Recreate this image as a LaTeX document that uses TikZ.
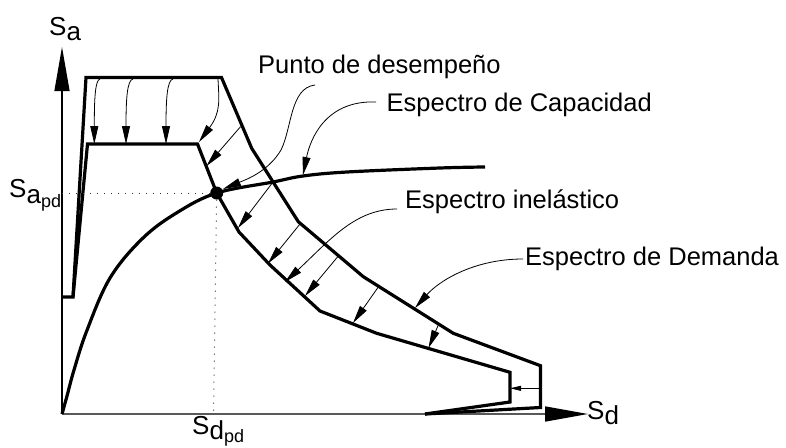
\documentclass[tikz,border=0pt]{standalone}
\usepackage{fontspec}
\setmainfont{Liberation Sans}
\usetikzlibrary{arrows.meta}
\begin{document}
\begin{tikzpicture}[x=1pt,y=-1pt,
  spec/.style={line width=3.2pt, line join=miter},
  lead/.style={line width=0.8pt, -{Triangle[length=18pt,width=8pt]}},
  smalllead/.style={line width=0.8pt, -{Triangle[length=11pt,width=5pt]}},
  lbl/.style={inner sep=0pt, anchor=base west, font=\fontsize{25.5}{30}\selectfont},
  axl/.style={inner sep=0pt, anchor=base west, font=\fontsize{26}{30}\selectfont},
  dots/.style={line width=1pt, dash pattern=on 1pt off 6pt, black!80}
]
\useasboundingbox (0,0) rectangle (786,447);

% axes
\coordinate (o) at (62,414);
\coordinate (ytip) at (62,47);
\coordinate (xtip) at (588,414);
\draw[line width=1.2pt, -{Triangle[length=44pt,width=15pt]}] (o) -- (ytip);
\draw[line width=1.6pt, gray!70!black, -{Triangle[length=43pt,width=15pt,black]}] (o) -- (xtip);

% outer (demand) spectrum
\coordinate (O1) at (62,297);
\coordinate (O2) at (73,297);
\coordinate (O3) at (86,77.5);
\coordinate (O4) at (221.5,77.5);
\coordinate (O5) at (251.7,148.3);
\coordinate (O6) at (298.3,221.7);
\coordinate (O7) at (363.3,276.7);
\coordinate (O8) at (453.3,333.3);
\coordinate (O9) at (540.5,365.7);
\coordinate (O10) at (540.5,407.5);
\coordinate (tip) at (425,414);
\draw[spec] (O1) -- (O2) -- (O3) -- (O4) -- (O5) -- (O6) -- (O7) -- (O8) -- (O9) -- (O10) -- (tip);

% inner (inelastic) spectrum
\coordinate (I2) at (87.5,144);
\coordinate (I3) at (197.5,144);
\coordinate (I4) at (216.7,193);
\coordinate (I5) at (239,232);
\coordinate (I6) at (270,265);
\coordinate (I7) at (320,311);
\coordinate (I8) at (376.7,333.3);
\coordinate (I9) at (510,372.3);
\coordinate (I10) at (510,402);
\draw[spec] (O2) -- (I2) -- (I3) -- (I4) -- (I5) -- (I6) -- (I7) -- (I8) -- (I9) -- (I10) -- (tip);

% capacity curve
\draw[line width=3.2pt] plot[smooth, tension=0.6] coordinates {(62,414) (67,396) (74,370) (86.7,331) (110,278) (143,238) (178,212) (216.7,193) (273,182) (303,176) (347,172) (440,168) (485,167)};

% performance point
\node[circle, fill=black, inner sep=0pt, minimum size=13pt] (pd) at (I4) {};
\coordinate (ha) at (62,193);
\coordinate (vb) at (213.5,414);
\draw[dots] (ha) -- (pd);
\draw[dots] (pd) -- (vb);

% reduction arrows
\coordinate (r1s) at (100,79);  \coordinate (r1e) at (94.3,144);
\coordinate (r2s) at (133,79);  \coordinate (r2e) at (126,144);
\coordinate (r3s) at (173,79);  \coordinate (r3e) at (166,144);
\coordinate (r4s) at (218,79);  \coordinate (r4e) at (199,142);
\draw[lead] (r1s) .. controls (95,80) and (94.3,100) .. (r1e);
\draw[lead] (r2s) .. controls (127,80) and (126,100) .. (r2e);
\draw[lead] (r3s) .. controls (167,80) and (166,100) .. (r3e);
\draw[lead] (r4s) .. controls (219,100) and (221,112) .. (r4e);

\coordinate (a5s) at (240.5,126.7); \coordinate (a5e) at (206.5,166);
\coordinate (a6s) at (273,182);     \coordinate (a6e) at (238,228);
\coordinate (a7s) at (300,224);     \coordinate (a7e) at (268,263.5);
\coordinate (aDs) at (338.3,256);   \coordinate (aDe) at (305,296);
\coordinate (aEs) at (378.3,287);   \coordinate (aEe) at (353,323);
\coordinate (aFs) at (438.3,325);   \coordinate (aFe) at (428.5,348);
\coordinate (aGs) at (540.5,388.3); \coordinate (aGe) at (510,388.3);
\draw[lead] (a5s) -- (a5e);
\draw[lead] (a6s) -- (a6e);
\draw[lead] (a7s) -- (a7e);
\draw[lead] (aDs) -- (aDe);
\draw[lead] (aEs) -- (aEe);
\draw[lead] (aFs) -- (aFe);
\draw[smalllead] (aGs) -- (aGe);

% labels
\node[lbl] (punto) at (258,73) {Punto de desempeño};
\node[lbl] (capac) at (386.5,111.5) {Espectro de Capacidad};
\node[lbl] (inel) at (405,208) {Espectro inelástico};
\node[lbl] (dem) at (525,265) {Espectro de Demanda};

\coordinate (lp) at (315,85);
\coordinate (lpt) at (223,189);
\coordinate (lc) at (376,102);
\coordinate (lct) at (303,175);
\coordinate (li) at (397,209);
\coordinate (lit) at (285,282);
\coordinate (ld) at (523,259);
\coordinate (ldt) at (415,308);
\draw[lead] (lp) .. controls (290,88) and (292,128) .. (281,150) .. controls (268,172) and (245,180) .. (lpt);
\draw[lead] (lc) .. controls (325,100) and (310,140) .. (lct);
\draw[lead] (li) .. controls (355,209) and (330,240) .. (lit);
\draw[lead] (ld) .. controls (475,259) and (440,280) .. (ldt);

% axis labels
\node[axl] (sa) at (49,35) {S\raisebox{-5pt}{a}};
\node[axl] (sapd) at (9,197) {S\raisebox{-6pt}{a\raisebox{-4pt}{\fontsize{18}{18}\selectfont pd}}};
\node[axl] (sdpd) at (192,434) {S\raisebox{-5pt}{d\raisebox{-3pt}{\fontsize{18}{18}\selectfont pd}}};
\node[axl] (sd) at (587,419) {S\raisebox{-5pt}{d}};
\end{tikzpicture}
\end{document}
